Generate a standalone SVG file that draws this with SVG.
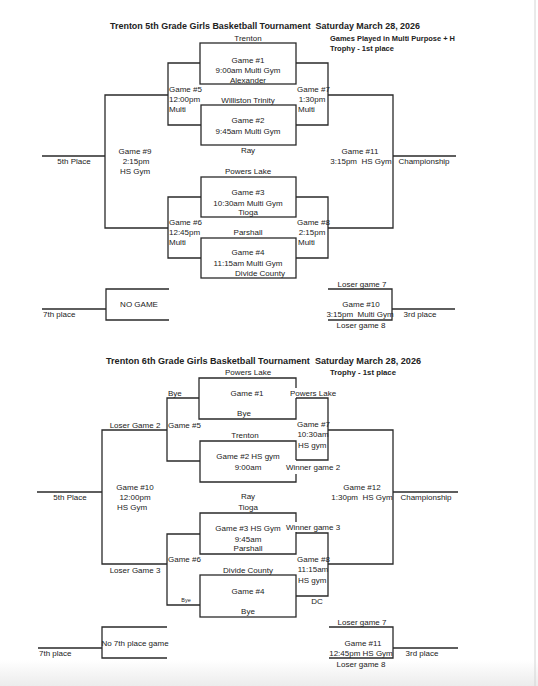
<svg xmlns="http://www.w3.org/2000/svg" width="538" height="686" viewBox="0 0 538 686">
<defs>
<linearGradient id="bot" x1="0" y1="0" x2="0" y2="1">
<stop offset="0" stop-color="#ffffff"/>
<stop offset="1" stop-color="#ececec"/>
</linearGradient>
</defs>
<style>
text{font-family:"Liberation Sans",Arial,sans-serif;font-size:8px;fill:#222}
.b{font-weight:bold}
.t{font-weight:bold;font-size:8.5px}
.c{text-anchor:middle}
.s{font-size:5.5px}
.ln{fill:none;stroke:#2a2a2a;stroke-width:1.3}
</style>
<rect x="0" y="0" width="538" height="686" fill="#ffffff"/>
<rect x="0" y="660" width="538" height="26" fill="url(#bot)"/>
<line x1="535" y1="0" x2="535" y2="686" stroke="#d4d4d4" stroke-width="1"/>

<g id="header5">
<text class="t" x="110" y="29" textLength="310" lengthAdjust="spacingAndGlyphs">Trenton 5th Grade Girls Basketball Tournament&#160; Saturday March 28, 2026</text>
<text class="b" x="330" y="41" textLength="125" lengthAdjust="spacingAndGlyphs">Games Played in Multi Purpose + H</text>
<text class="b" x="330" y="51" textLength="64" lengthAdjust="spacingAndGlyphs">Trophy - 1st place</text>
</g>

<g id="connectors">
<rect class="ln" x="200" y="43" width="96" height="41"/>
<rect class="ln" x="201" y="105" width="95" height="40"/>
<rect class="ln" x="201" y="177" width="95" height="40"/>
<rect class="ln" x="201" y="238" width="95" height="40"/>
<path class="ln" d="M200 63H168V125H201"/>
<path class="ln" d="M201 197H168V258H201"/>
<path class="ln" d="M296 63H328V125H296"/>
<path class="ln" d="M296 197H328V258H296"/>
<path class="ln" d="M168 95H105V228H168M42 156H105"/>
<path class="ln" d="M328 95H393V228H328M393 156H456"/>
<path class="ln" d="M328 289H392V320H328M392 309H455"/>
<path class="ln" d="M169 289H106V320H169M42 309H106"/>
<path class="ln" d="M296 388V378H199V419H296V398"/>
<path class="ln" d="M199 398H167V461H200"/>
<path class="ln" d="M296 460V441H200V482H296V474"/>
<path class="ln" d="M296 398H328V460H296"/>
<path class="ln" d="M167 430H102V564H167M37 492H102"/>
<path class="ln" d="M328 430H393V564H328M393 492H458"/>
<path class="ln" d="M296 522V513H200V554H296V532"/>
<path class="ln" d="M200 534H167V605H200"/>
<rect class="ln" x="200" y="575" width="96" height="42"/>
<path class="ln" d="M296 533H328V596H296"/>
<path class="ln" d="M329 627H393V658H329M393 648H458"/>
<path class="ln" d="M167 627H102V658H167M38 648H102"/>
</g>

<g id="g5-game1">
<text class="c" x="248" y="41">Trenton</text>
<text class="c" x="248" y="63">Game #1</text>
<text class="c" x="248" y="73">9:00am Multi Gym</text>
<text class="c" x="248" y="83">Alexander</text>
</g>
<g id="g5-game2">
<text class="c" x="248" y="103">Williston Trinity</text>
<text class="c" x="248" y="123">Game #2</text>
<text class="c" x="248" y="134">9:45am Multi Gym</text>
<text class="c" x="248" y="153">Ray</text>
</g>
<g id="g5-game3">
<text class="c" x="248" y="174">Powers Lake</text>
<text class="c" x="248" y="195">Game #3</text>
<text class="c" x="248" y="206">10:30am Multi Gym</text>
<text class="c" x="248" y="215">Tioga</text>
</g>
<g id="g5-game4">
<text class="c" x="248" y="235">Parshall</text>
<text class="c" x="248" y="255">Game #4</text>
<text class="c" x="248" y="266">11:15am Multi Gym</text>
<text class="c" x="260" y="276">Divide County</text>
</g>
<g id="g5-game5">
<text x="169" y="92">Game #5</text>
<text x="169" y="102">12:00pm</text>
<text x="169" y="112">Multi</text>
</g>
<g id="g5-game6">
<text x="169" y="225">Game #6</text>
<text x="169" y="235">12:45pm</text>
<text x="169" y="245">Multi</text>
</g>
<g id="g5-game7">
<text x="297" y="92">Game #7</text>
<text class="c" x="312" y="102">1:30pm</text>
<text x="298" y="112">Multi</text>
</g>
<g id="g5-game8">
<text x="297" y="225">Game #8</text>
<text class="c" x="312" y="235">2:15pm</text>
<text x="298" y="245">Multi</text>
</g>
<g id="g5-game9">
<text class="c" x="135" y="154">Game #9</text>
<text class="c" x="136" y="164">2:15pm</text>
<text class="c" x="135" y="174">HS Gym</text>
<text class="c" x="74" y="164">5th Place</text>
</g>
<g id="g5-game11">
<text class="c" x="360" y="154">Game #11</text>
<text class="c" x="361" y="164">3:15pm&#160; HS Gym</text>
<text class="c" x="424" y="164">Championship</text>
</g>
<g id="g5-game10">
<text class="c" x="362" y="287">Loser game 7</text>
<text class="c" x="361" y="307">Game #10</text>
<text class="c" x="360" y="317">3:15pm&#160; Multi Gym</text>
<text class="c" x="361" y="328">Loser game 8</text>
<text class="c" x="420" y="317">3rd place</text>
</g>
<g id="g5-nogame">
<text class="c" x="139" y="307">NO GAME</text>
<text x="43" y="317">7th place</text>
</g>

<g id="header6">
<text class="t" x="106" y="364" textLength="315" lengthAdjust="spacingAndGlyphs">Trenton 6th Grade Girls Basketball Tournament&#160; Saturday March 28, 2026</text>
<text class="b" x="330" y="375" textLength="66" lengthAdjust="spacingAndGlyphs">Trophy - 1st place</text>
</g>
<g id="g6-game1">
<text class="c" x="248" y="375">Powers Lake</text>
<text x="168" y="396">Bye</text>
<text class="c" x="247" y="396">Game #1</text>
<text class="c" x="313" y="396">Powers Lake</text>
<text class="c" x="244" y="416">Bye</text>
</g>
<g id="g6-game5">
<text x="168" y="428">Game #5</text>
</g>
<g id="g6-game2">
<text class="c" x="245" y="438">Trenton</text>
<text class="c" x="248" y="459">Game #2 HS gym</text>
<text class="c" x="248" y="470">9:00am</text>
<text class="c" x="313" y="470">Winner game 2</text>
<text class="c" x="248" y="499">Ray</text>
</g>
<g id="g6-game7">
<text x="297" y="427">Game #7</text>
<text class="c" x="313" y="437">10:30am</text>
<text x="298" y="448">HS gym</text>
</g>
<g id="g6-game10">
<text class="c" x="135" y="428">Loser Game 2</text>
<text class="c" x="135" y="490">Game #10</text>
<text class="c" x="135" y="500">12:00pm</text>
<text class="c" x="132" y="510">HS Gym</text>
<text class="c" x="70" y="500">5th Place</text>
<text class="c" x="135" y="573">Loser Game 3</text>
</g>
<g id="g6-game12">
<text class="c" x="362" y="490">Game #12</text>
<text class="c" x="362" y="500">1:30pm&#160; HS Gym</text>
<text class="c" x="426" y="500">Championship</text>
</g>
<g id="g6-game3">
<text class="c" x="248" y="510">Tioga</text>
<text class="c" x="248" y="531">Game #3 HS Gym</text>
<text class="c" x="313" y="530">Winner game 3</text>
<text class="c" x="248" y="542">9:45am</text>
<text class="c" x="248" y="551">Parshall</text>
</g>
<g id="g6-game6">
<text x="168" y="562">Game #6</text>
<text class="c s" x="186" y="602">Bye</text>
</g>
<g id="g6-game8">
<text x="297" y="562">Game #8</text>
<text class="c" x="313" y="572">11:15am</text>
<text x="298" y="583">HS gym</text>
<text class="c" x="317" y="604">DC</text>
</g>
<g id="g6-game4">
<text class="c" x="248" y="573">Divide County</text>
<text class="c" x="248" y="594">Game #4</text>
<text class="c" x="248" y="614">Bye</text>
</g>
<g id="g6-game11">
<text class="c" x="362" y="625">Loser game 7</text>
<text class="c" x="363" y="646">Game #11</text>
<text class="c" x="361" y="656">12:45pm HS Gym</text>
<text class="c" x="361" y="667">Loser game 8</text>
<text class="c" x="422" y="656">3rd place</text>
</g>
<g id="g6-no7th">
<text class="c" x="135" y="646">No 7th place game</text>
<text x="39" y="656">7th place</text>
</g>
</svg>
